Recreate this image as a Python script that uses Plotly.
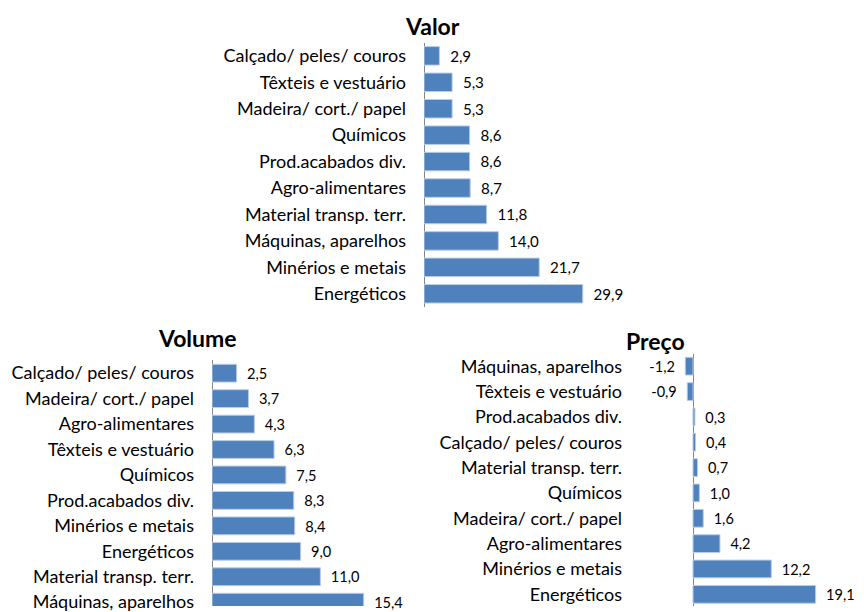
import plotly.graph_objects as go

valor_cats = ["Calçado/ peles/ couros", "Têxteis e vestuário", "Madeira/ cort./ papel", "Químicos",
              "Prod.acabados div.", "Agro-alimentares", "Material transp. terr.", "Máquinas, aparelhos",
              "Minérios e metais", "Energéticos"]
valor_vals = [2.9, 5.3, 5.3, 8.6, 8.6, 8.7, 11.8, 14.0, 21.7, 29.9]

volume_cats = ["Calçado/ peles/ couros", "Madeira/ cort./ papel", "Agro-alimentares", "Têxteis e vestuário",
               "Químicos", "Prod.acabados div.", "Minérios e metais", "Energéticos",
               "Material transp. terr.", "Máquinas, aparelhos"]
volume_vals = [2.5, 3.7, 4.3, 6.3, 7.5, 8.3, 8.4, 9.0, 11.0, 15.4]

preco_cats = ["Máquinas, aparelhos", "Têxteis e vestuário", "Prod.acabados div.", "Calçado/ peles/ couros",
              "Material transp. terr.", "Químicos", "Madeira/ cort./ papel", "Agro-alimentares",
              "Minérios e metais", "Energéticos"]
preco_vals = [-1.2, -0.9, 0.3, 0.4, 0.7, 1.0, 1.6, 4.2, 12.2, 19.1]

titles = ["Valor", "Volume", "Preço"]

FONT = "Lato"
FS = 18
BAR = "#4F81BD"
OFF = 8            # page body margin
W, H = 856, 604
NB = "\u00a0"


def tmpl(vals):
    return [("%{x:.1f}" + NB * 2) if v < 0 else (NB * 2 + "%{x:.1f}") for v in vals]


fig = go.Figure()
panels = [
    (valor_cats, valor_vals, "x", "y"),
    (volume_cats, volume_vals, "x2", "y2"),
    (preco_cats, preco_vals, "x3", "y3"),
]
for cats, vals, xa, ya in panels:
    fig.add_trace(go.Bar(
        y=cats, x=vals, orientation="h", xaxis=xa, yaxis=ya,
        marker=dict(color=BAR, line=dict(color="#B9CDE5", width=1)),
        width=0.7,
        texttemplate=tmpl(vals), textposition="outside", cliponaxis=False,
        textfont=dict(family=FONT, size=FS, color="black"),
        showlegend=False, hoverinfo="skip",
    ))


def px_x(p):
    return (p - OFF) / W


def px_y(p):
    return 1 - (p - OFF) / H


def xax(start_px, zero_px, scale, end_px):
    lo = -(zero_px - start_px) / scale
    hi = (end_px - zero_px) / scale
    return dict(domain=[px_x(start_px), px_x(end_px)], range=[lo, hi],
                showgrid=False, showticklabels=False, ticks="", showline=False,
                zeroline=True, zerolinecolor="#868686", zerolinewidth=1, fixedrange=True)


def yax(top_px, bot_px, step, anchor):
    bot_vis = min(bot_px, OFF + H)
    return dict(domain=[max(0, px_y(bot_vis)), px_y(top_px)], type="category",
                range=[-0.5 + (bot_vis - top_px) / step, -0.5],
                showgrid=False, showline=False, ticks="", anchor=anchor,
                tickfont=dict(family=FONT, size=FS, color="black"),
                ticklabelstandoff=17, fixedrange=True)


def title(txt, x, y):
    return dict(text="<b>" + txt + "</b>", x=px_x(x), y=px_y(y), xref="paper", yref="paper",
                xanchor="center", yanchor="middle", showarrow=False,
                font=dict(family=FONT, size=23, color="black"))


fig.update_layout(
    width=W, height=H, margin=dict(l=0, r=0, t=0, b=0),
    paper_bgcolor="white", plot_bgcolor="white",
    separators=",.", bargap=0.3,
    xaxis=dict(xax(424, 424, 5.31, 660), anchor="y"),
    yaxis=yax(43, 310, 26.7, "x"),
    xaxis2=dict(xax(212, 212, 9.85, 420), anchor="y2"),
    yaxis2=yax(364, 621, 25.7, "x2"),
    xaxis3=dict(xax(640, 693, 6.42, 850), anchor="y3"),
    yaxis3=yax(357, 613, 25.6, "x3"),
    annotations=[
        title(titles[0], 432, 26),
        title(titles[1], 197, 341),
        title(titles[2], 655, 344),
    ],
)

fig.write_html("out.html")
